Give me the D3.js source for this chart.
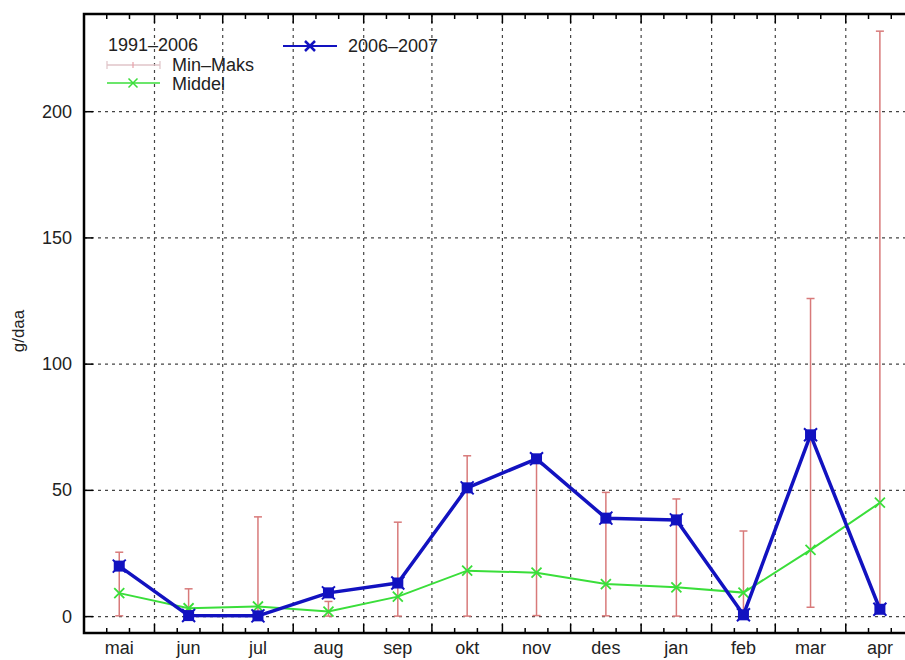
<!DOCTYPE html>
<html>
<head>
<meta charset="utf-8">
<script src="https://cdn.jsdelivr.net/npm/d3@7"></script>
<style>
  body { margin: 0; background: #fff; }
  svg text { font-family: "Liberation Sans", Arial, sans-serif; fill: #222; }
</style>
</head>
<body>
<svg id="chart" width="905" height="660"></svg>
<script>
// month labels, season May 2006 - April 2007
var months = [ "mai", "jun", "jul", "aug", "sep", "okt", "nov", "des", "jan", "feb", "mar", "apr" ];
var season = [ 20, 0.4, 0.3, 9.4, 13.3, 51, 62.5, 39, 38.3, 0.7, 72, 2.9 ];
var middel = [ 9.3, 3.3, 4.0, 2.0, 7.9, 18.2, 17.4, 12.9, 11.6, 9.5, 26.4, 45.1 ];
var minVals = [ 0.3, 0.5, 0.2, 0.2, 0.2, 0.2, 0.4, 0.3, 0.2, 0.3, 3.7, 2.5 ];
var maxVals = [ 25.5, 11, 39.5, 6, 37.4, 63.7, 63, 49.2, 46.6, 33.9, 126, 231.9 ];
var yTicks = [ 0, 50, 100, 150, 200 ];

var svg = d3.select( "#chart" );
var pLeft = 84, pRight = 914, pTop = 14, pBottom = 633;

var start = new Date( 2006, 4, 1 ), end = new Date( 2007, 4, 1 );
var x = d3.scaleTime().domain( [ start, end ] ).range( [ pLeft, pRight ] );
var y = d3.scaleLinear().domain( [ -6.5, 238.7 ] ).range( [ pBottom, pTop ] );

var monthStarts = d3.timeMonth.range( start, end );
var mids = monthStarts.map( function( d ) {
    var next = d3.timeMonth.offset( d, 1 );
    return new Date( ( d.getTime() + next.getTime() ) / 2 );
});

// grid
var grid = svg.append( "g" ).attr( "stroke", "#444" ).attr( "stroke-width", 1.2 )
    .attr( "stroke-dasharray", "3,4" );
monthStarts.slice( 1 ).forEach( function( d ) {
    grid.append( "line" ).attr( "x1", x( d ) ).attr( "x2", x( d ) ).attr( "y1", pTop ).attr( "y2", pBottom );
});
yTicks.forEach( function( v ) {
    grid.append( "line" ).attr( "x1", pLeft ).attr( "x2", pRight ).attr( "y1", y( v ) ).attr( "y2", y( v ) );
});

// ticks on frame
var ticks = svg.append( "g" ).attr( "stroke", "#000" ).attr( "stroke-width", 1.5 );
monthStarts.forEach( function( d ) {
    [ 0, 10, 20 ].forEach( function( off ) {
        var t = d3.timeDay.offset( d, off ), len = off ? 5 : 9;
        ticks.append( "line" ).attr( "x1", x( t ) ).attr( "x2", x( t ) ).attr( "y1", pBottom ).attr( "y2", pBottom - len );
        ticks.append( "line" ).attr( "x1", x( t ) ).attr( "x2", x( t ) ).attr( "y1", pTop ).attr( "y2", pTop + len );
    });
});
yTicks.forEach( function( v ) {
    ticks.append( "line" ).attr( "x1", pLeft ).attr( "x2", pLeft + 9 ).attr( "y1", y( v ) ).attr( "y2", y( v ) );
});

// tick labels
svg.append( "g" ).selectAll( "text" ).data( yTicks ).enter().append( "text" )
    .attr( "x", 72 ).attr( "y", function( d ) { return y( d ) + 6; } )
    .attr( "text-anchor", "end" ).attr( "font-size", 18 )
    .text( function( d ) { return d; } );

svg.append( "g" ).selectAll( "text" ).data( months ).enter().append( "text" )
    .attr( "x", function( d, i ) { return x( mids[ i ] ); } ).attr( "y", 654 )
    .attr( "text-anchor", "middle" ).attr( "font-size", 18 )
    .text( function( d ) { return d; } );

svg.append( "text" ).attr( "transform", "translate(24,331) rotate(-90)" )
    .attr( "text-anchor", "middle" ).attr( "font-size", 17 ).text( "g/daa" );

// min-max bars
var errColor = "#d87a7a";
var bars = svg.append( "g" ).attr( "stroke", errColor ).attr( "stroke-width", 1.5 );
months.forEach( function( m, i ) {
    var cx = x( mids[ i ] );
    bars.append( "line" ).attr( "x1", cx ).attr( "x2", cx ).attr( "y1", y( minVals[ i ] ) ).attr( "y2", y( maxVals[ i ] ) );
    [ minVals[ i ], maxVals[ i ] ].forEach( function( v ) {
        bars.append( "line" ).attr( "x1", cx - 4 ).attr( "x2", cx + 4 ).attr( "y1", y( v ) ).attr( "y2", y( v ) );
    });
});

function crossMark( g, cx, cy, r, color, w ) {
    g.append( "path" )
        .attr( "d", "M" + ( cx - r ) + "," + ( cy - r ) + "L" + ( cx + r ) + "," + ( cy + r ) +
                    "M" + ( cx - r ) + "," + ( cy + r ) + "L" + ( cx + r ) + "," + ( cy - r ) )
        .attr( "stroke", color ).attr( "stroke-width", w ).attr( "fill", "none" );
}

function boxMark( g, cx, cy, color ) {
    g.append( "rect" ).attr( "x", cx - 5.5 ).attr( "y", cy - 5.5 ).attr( "width", 11 ).attr( "height", 11 )
        .attr( "fill", color );
    crossMark( g, cx, cy, 6.5, color, 2 );
}

var line = d3.line()
    .x( function( d, i ) { return x( mids[ i ] ); } )
    .y( function( d ) { return y( d ); } );

// middel
var green = "#3ade3a";
svg.append( "path" ).datum( middel ).attr( "d", line )
    .attr( "fill", "none" ).attr( "stroke", green ).attr( "stroke-width", 2 );
var gm = svg.append( "g" );
middel.forEach( function( v, i ) { crossMark( gm, x( mids[ i ] ), y( v ), 5, green, 1.8 ); } );

// 2006-2007
var blue = "#1212c0";
svg.append( "path" ).datum( season ).attr( "d", line )
    .attr( "fill", "none" ).attr( "stroke", blue ).attr( "stroke-width", 3.5 ).attr( "stroke-linejoin", "round" );
var bm = svg.append( "g" );
season.forEach( function( v, i ) { boxMark( bm, x( mids[ i ] ), y( v ), blue ); } );

// legend
var lg = svg.append( "g" );
lg.append( "text" ).attr( "x", 108 ).attr( "y", 51 ).attr( "font-size", 18 ).text( "1991\u20132006" );
lg.append( "line" ).attr( "x1", 107 ).attr( "x2", 160 ).attr( "y1", 65 ).attr( "y2", 65 )
    .attr( "stroke", "#e0c4c8" ).attr( "stroke-width", 1.5 );
[ 107, 160 ].forEach( function( lx ) {
    lg.append( "line" ).attr( "x1", lx ).attr( "x2", lx ).attr( "y1", 61 ).attr( "y2", 69 )
        .attr( "stroke", "#e0c4c8" ).attr( "stroke-width", 1.2 );
});
lg.append( "line" ).attr( "x1", 133 ).attr( "x2", 133 ).attr( "y1", 62 ).attr( "y2", 68 )
    .attr( "stroke", "#e8a0a8" ).attr( "stroke-width", 1.2 );
lg.append( "text" ).attr( "x", 172 ).attr( "y", 71 ).attr( "font-size", 18 ).text( "Min\u2013Maks" );

lg.append( "line" ).attr( "x1", 107 ).attr( "x2", 160 ).attr( "y1", 83 ).attr( "y2", 83 )
    .attr( "stroke", green ).attr( "stroke-width", 1.5 );
crossMark( lg, 133, 83, 4.5, green, 1.5 );
lg.append( "text" ).attr( "x", 172 ).attr( "y", 90 ).attr( "font-size", 18 ).text( "Middel" );

lg.append( "line" ).attr( "x1", 283 ).attr( "x2", 337 ).attr( "y1", 46 ).attr( "y2", 46 )
    .attr( "stroke", blue ).attr( "stroke-width", 2 );
crossMark( lg, 310, 46, 5, blue, 2.5 );
lg.append( "text" ).attr( "x", 348 ).attr( "y", 52 ).attr( "font-size", 18 ).text( "2006\u20132007" );

// frame
svg.append( "rect" ).attr( "x", pLeft ).attr( "y", pTop ).attr( "width", pRight - pLeft ).attr( "height", pBottom - pTop )
    .attr( "fill", "none" ).attr( "stroke", "#000" ).attr( "stroke-width", 2.5 );
</script>
</body>
</html>
